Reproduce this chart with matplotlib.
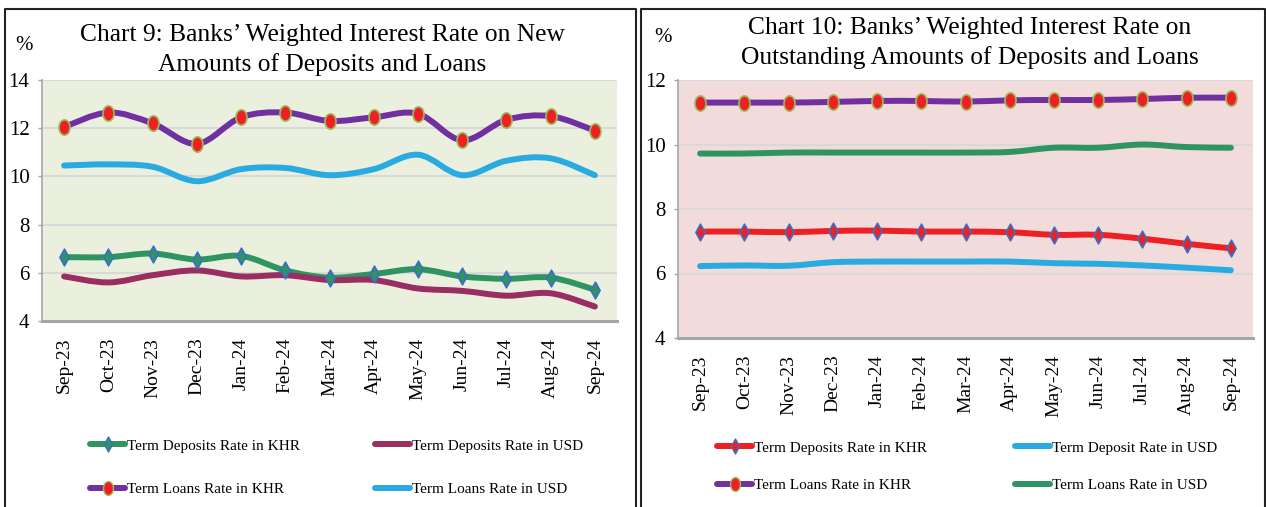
import numpy as np
import matplotlib
matplotlib.use("Agg")
import matplotlib.pyplot as plt
from matplotlib.path import Path
from matplotlib.patches import PathPatch
from matplotlib.lines import Line2D
from matplotlib.transforms import Affine2D

plt.rcParams['font.family'] = ['Liberation Serif', 'DejaVu Serif']

months = ["Sep-23", "Oct-23", "Nov-23", "Dec-23", "Jan-24", "Feb-24", "Mar-24",
          "Apr-24", "May-24", "Jun-24", "Jul-24", "Aug-24", "Sep-24"]

# Chart 9: new amounts
new_dep_khr = [6.65, 6.65, 6.8, 6.55, 6.7, 6.1, 5.8, 5.95, 6.15, 5.85, 5.75, 5.8, 5.3]
new_dep_usd = [5.85, 5.6, 5.9, 6.1, 5.85, 5.9, 5.7, 5.7, 5.35, 5.25, 5.05, 5.15, 4.6]
new_loan_khr = [12.05, 12.65, 12.2, 11.35, 12.45, 12.65, 12.3, 12.45, 12.6, 11.5, 12.35, 12.5, 11.9]
new_loan_usd = [10.45, 10.5, 10.4, 9.8, 10.3, 10.35, 10.05, 10.3, 10.9, 10.05, 10.65, 10.75, 10.05]

# Chart 10: outstanding amounts
out_dep_khr = [7.3, 7.3, 7.28, 7.32, 7.33, 7.3, 7.3, 7.28, 7.2, 7.2, 7.08, 6.92, 6.78]
out_dep_usd = [6.23, 6.25, 6.24, 6.35, 6.37, 6.37, 6.37, 6.37, 6.32, 6.3, 6.25, 6.18, 6.1]
out_loan_khr = [11.3, 11.3, 11.3, 11.32, 11.35, 11.35, 11.33, 11.37, 11.38, 11.38, 11.41, 11.45, 11.45]
out_loan_usd = [9.72, 9.72, 9.75, 9.75, 9.75, 9.75, 9.75, 9.77, 9.9, 9.9, 10.0, 9.92, 9.9]

PURPLE = "#7030A0"
LBLUE = "#29ABE2"
GREEN = "#2E9462"
MAROON = "#9A2D62"
RED = "#EE2024"

diamond = Path([(0, 1), (0.55, 0), (0, -1), (-0.55, 0), (0, 1)],
               [Path.MOVETO, Path.LINETO, Path.LINETO, Path.LINETO, Path.CLOSEPOLY])
ellipse = Path.unit_circle().transformed(Affine2D().scale(0.72, 1.0))


def smooth_path(x, y):
    # bezier segments through the data points, like Excel's smoothed lines
    n = len(x)
    verts = [(x[0], y[0])]
    codes = [Path.MOVETO]
    for i in range(n - 1):
        xa, ya = (x[i - 1], y[i - 1]) if i > 0 else (x[i], y[i])
        xd, yd = (x[i + 2], y[i + 2]) if i + 2 < n else (x[i + 1], y[i + 1])
        c1 = (x[i] + (x[i + 1] - xa) / 6, y[i] + (y[i + 1] - ya) / 6)
        c2 = (x[i + 1] - (xd - x[i]) / 6, y[i + 1] - (yd - y[i]) / 6)
        verts += [c1, c2, (x[i + 1], y[i + 1])]
        codes += [Path.CURVE4] * 3
    return Path(verts, codes)


def draw_series(ax, y, color, marker=None, mface=None, medge=None, msize=12):
    x = np.arange(len(y))
    ax.add_patch(PathPatch(smooth_path(x, y), fill=False, edgecolor=color, lw=4.3,
                           capstyle='round', joinstyle='round', zorder=3))
    if marker is not None:
        ax.plot(x, y, linestyle='none', marker=marker, markersize=msize,
                markerfacecolor=mface, markeredgecolor=medge, markeredgewidth=1.2, zorder=4)
    return Line2D([], [], color=color, lw=4.3, solid_capstyle='round',
                  marker=marker, markersize=msize * 0.9, markerfacecolor=mface,
                  markeredgecolor=medge, markeredgewidth=1.0)


def style_axes(ax, bg, ymin, ymax):
    ax.set_facecolor(bg)
    ax.set_xlim(-0.5, len(months) - 0.5)
    ax.set_ylim(ymin, ymax)
    ax.set_yticks(np.arange(ymin, ymax + 1, 2))
    ax.set_xticks(np.arange(len(months)))
    ax.set_xticklabels(months, rotation=90, fontsize=14)
    ax.tick_params(axis='x', length=0, pad=12)
    ax.tick_params(axis='y', length=3, width=1, color='#A6A6A6', pad=6, labelsize=15)
    ax.grid(axis='y', color='#D9D9D9', lw=1.5)
    ax.set_axisbelow(True)
    for s in ['top', 'right']:
        ax.spines[s].set_visible(False)
    ax.spines['left'].set_color('#A6A6A6')
    ax.spines['left'].set_linewidth(1.2)
    ax.spines['bottom'].set_color('#A6A6A6')
    ax.spines['bottom'].set_linewidth(2.2)


W, H = 1266, 507
fig = plt.figure(figsize=(W / 100, H / 100), dpi=100)

# ---- Chart 9 ----
ax1 = fig.add_axes([42 / W, 1 - 321 / H, 575 / W, 241 / H])
style_axes(ax1, '#EBF0DE', 4, 14)
h_dk = draw_series(ax1, new_dep_khr, GREEN, diamond, GREEN, '#3A6FC4', 12)
h_du = draw_series(ax1, new_dep_usd, MAROON)
h_lk = draw_series(ax1, new_loan_khr, PURPLE, ellipse, RED, '#9BBB59', 11)
h_lu = draw_series(ax1, new_loan_usd, LBLUE)

fig.text(322 / W, 1 - 35 / H, "Chart 9: Banks\u2019 Weighted Interest Rate on New",
         ha='center', va='center', fontsize=18.4)
fig.text(322 / W, 1 - 65 / H, "Amounts of Deposits and Loans",
         ha='center', va='center', fontsize=18.4)
fig.text(24 / W, 1 - 45 / H, "%", ha='center', va='center', fontsize=15)

leg_kw = dict(frameon=False, fontsize=11, handlelength=2.3, handletextpad=0.15,
              borderaxespad=0, borderpad=0, loc='upper left')
fig.legend([h_dk, h_lk], ["Term Deposits Rate in KHR", "Term Loans Rate in KHR"],
           bbox_to_anchor=(90 / W, 1 - 439 / H), labelspacing=1.95, **leg_kw)
fig.legend([h_du, h_lu], ["Term Deposits Rate in USD", "Term Loans Rate in USD"],
           bbox_to_anchor=(375 / W, 1 - 439 / H), labelspacing=1.95, **leg_kw)

# ---- Chart 10 ----
ax2 = fig.add_axes([678 / W, 1 - 338 / H, 575 / W, 258 / H])
style_axes(ax2, '#F2DCDB', 4, 12)
g_dk = draw_series(ax2, out_dep_khr, RED, diamond, RED, '#3A6FC4', 12)
g_du = draw_series(ax2, out_dep_usd, LBLUE)
g_lk = draw_series(ax2, out_loan_khr, PURPLE, ellipse, RED, '#9BBB59', 11)
g_lu = draw_series(ax2, out_loan_usd, GREEN)

fig.text(970 / W, 1 - 28 / H, "Chart 10: Banks\u2019 Weighted Interest Rate on",
         ha='center', va='center', fontsize=18.4)
fig.text(970 / W, 1 - 58 / H, "Outstanding Amounts of Deposits and Loans",
         ha='center', va='center', fontsize=18.4)
fig.text(663 / W, 1 - 37 / H, "%", ha='center', va='center', fontsize=15)

fig.legend([g_dk, g_lk], ["Term Deposits Rate in KHR", "Term Loans Rate in KHR"],
           bbox_to_anchor=(717 / W, 1 - 441 / H), labelspacing=1.55, **leg_kw)
fig.legend([g_du, g_lu], ["Term Deposit Rate in USD", "Term Loans Rate in USD"],
           bbox_to_anchor=(1015 / W, 1 - 441 / H), labelspacing=1.55, **leg_kw)

# panel frames
for xs, ys in [([5, 5, 636, 636], [507, 9, 9, 507]),
               ([641, 641, 1265, 1265], [507, 9, 9, 507])]:
    fig.add_artist(Line2D([v / W for v in xs], [1 - v / H for v in ys],
                          color='#222222', lw=1.5))

fig.savefig("out.png", dpi=100)
